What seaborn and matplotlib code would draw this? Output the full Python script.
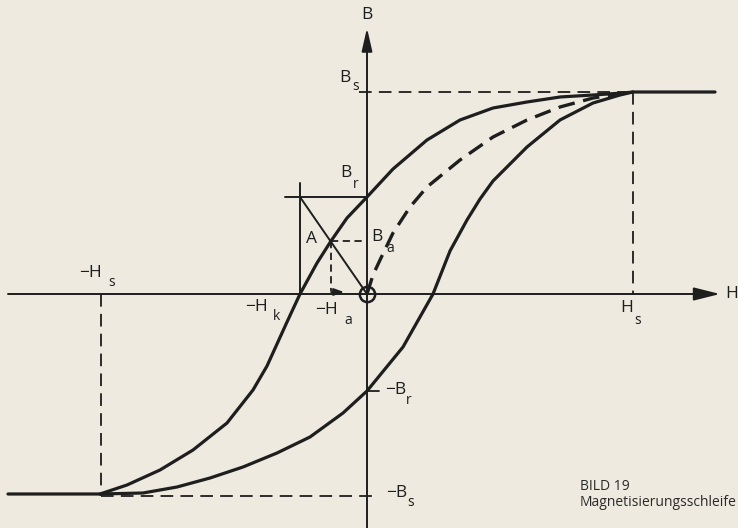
import numpy as np
import pandas as pd
import seaborn as sns
import matplotlib.pyplot as plt

# Values (drawing units, origin at the axis cross)
upper_H = [348, 266, 256, 226, 193, 160, 126, 93, 60, 26, 0, -20, -36, -50, -67, -80,
           -100, -114, -140, -174, -207, -240, -267, -359]
upper_B = [202, 202, 201, 199, 197, 192, 186, 174, 154, 125, 97, 76, 53, 31, 0, -28,
           -72, -96, -129, -156, -176, -191, -200, -200]

lower_H = [-267, -224, -190, -157, -124, -90, -57, -24, 0, 36, 66, 83, 100, 113, 126,
           160, 193, 226, 253, 266]
lower_B = [-200, -199, -193, -184, -173, -159, -143, -119, -97, -53, 0, 43, 74, 95, 113,
           147, 174, 191, 199, 202]

virgin_H = [0, 6, 13, 26, 43, 60, 93, 126, 160, 193, 226, 266]
virgin_B = [0, 19, 34, 61, 87, 107, 134, 157, 174, 187, 196, 202]

H_s, B_s = 266, 202
B_r, H_k = 97, 67
H_a, B_a = -36, 53

paper = '#eeeadf'
ink = '#1e1e1e'

sns.set_theme(style='white')
plt.rcParams['font.family'] = ['Open Sans', 'DejaVu Sans']

fig = plt.figure(figsize=(7.38, 5.28), dpi=100, facecolor=paper)
ax = fig.add_axes([0, 0, 1, 1])
ax.set_facecolor(paper)
ax.set_xlim(-367, 371)
ax.set_ylim(-234, 294)
ax.axis('off')

upper = pd.DataFrame({'H': upper_H, 'B': upper_B})
lower = pd.DataFrame({'H': lower_H, 'B': lower_B})
virgin = pd.DataFrame({'H': virgin_H, 'B': virgin_B})

# axes with arrows
ax.annotate('', xy=(353, 0), xytext=(-359, 0),
            arrowprops=dict(arrowstyle='-|>,head_length=0.8,head_width=0.2',
                            mutation_scale=20, lw=1.4, color=ink, shrinkA=0, shrinkB=0))
ax.annotate('', xy=(0, 266), xytext=(0, -234),
            arrowprops=dict(arrowstyle='-|>,head_length=0.7,head_width=0.16',
                            mutation_scale=20, lw=1.4, color=ink, shrinkA=0, shrinkB=0))

# hysteresis loop
curve_kw = dict(sort=False, estimator=None, color=ink, ax=ax)
sns.lineplot(data=upper, x='H', y='B', lw=2.3, solid_joinstyle='round', **curve_kw)
sns.lineplot(data=lower, x='H', y='B', lw=2.3, solid_joinstyle='round', **curve_kw)
sns.lineplot(data=virgin, x='H', y='B', lw=2.4, dashes=False,
             linestyle=(0, (5, 2.6)), **curve_kw)

# saturation guides
dash = dict(color=ink, lw=1.3, linestyle=(0, (7, 4)))
ax.plot([-8, H_s], [B_s, B_s], **dash)
ax.plot([H_s, H_s], [B_s, 0], **dash)
ax.plot([-H_s, 6], [-B_s, -B_s], **dash)
ax.plot([-H_s, -H_s], [0, -B_s], **dash)
ax.plot([0, 14], [-B_r, -B_r], **dash)

# working point construction
ax.plot([-H_k, -H_k], [0, 111], color=ink, lw=1.4)
ax.plot([-82, 0], [B_r, B_r], color=ink, lw=1.4)
ax.plot([-H_k, 0], [B_r, 0], color=ink, lw=1.4)
ax.plot([H_a, 0], [B_a, B_a], color=ink, lw=1.3, linestyle=(0, (4, 2.5)))
ax.plot([H_a, H_a], [B_a, 3], color=ink, lw=1.3, linestyle=(0, (4, 2.5)))
ax.annotate('', xy=(-23, 2), xytext=(H_a, 2),
            arrowprops=dict(arrowstyle='-|>,head_length=0.5,head_width=0.18',
                            mutation_scale=12, lw=1.3, color=ink, shrinkA=0, shrinkB=0))
ax.plot([0], [0], marker='o', ms=11, mfc='none', mec=ink, mew=1.8)

# labels: (main text, sub text, main pos, sub pos)
labels = [
    ('B', '', (0, 279), None),
    ('H', '', (365, 0), None),
    ('B', 's', (-22, 216), (-11, 207)),
    ('B', 'r', (-21, 121), (-11, 110)),
    ('B', 'a', (10, 57), (23, 46)),
    ('A', '', (-55, 55), None),
    ('\u2212H', 'a', (-40, -16), (-19, -26)),
    ('\u2212H', 'k', (-110, -13), (-90, -22)),
    ('H', 's', (260, -14), (271, -26)),
    ('\u2212H', 's', (-276, 21), (-255, 11)),
    ('\u2212B', 'r', (29, -96), (42, -106)),
    ('\u2212B', 's', (30, -199), (44, -209)),
]
for main, sub, pos, spos in labels:
    ax.text(pos[0], pos[1], main, fontsize=12.5, color=ink, ha='center', va='center')
    if sub:
        ax.text(spos[0], spos[1], sub, fontsize=10, color=ink, ha='center', va='center')

ax.text(213, -193, 'BILD 19', fontsize=10, color='#2a2a2a', ha='left', va='center')
ax.text(213, -208, 'Magnetisierungsschleife', fontsize=10, color='#2a2a2a',
        ha='left', va='center')

fig.savefig('out.png', dpi=100, facecolor=paper)
